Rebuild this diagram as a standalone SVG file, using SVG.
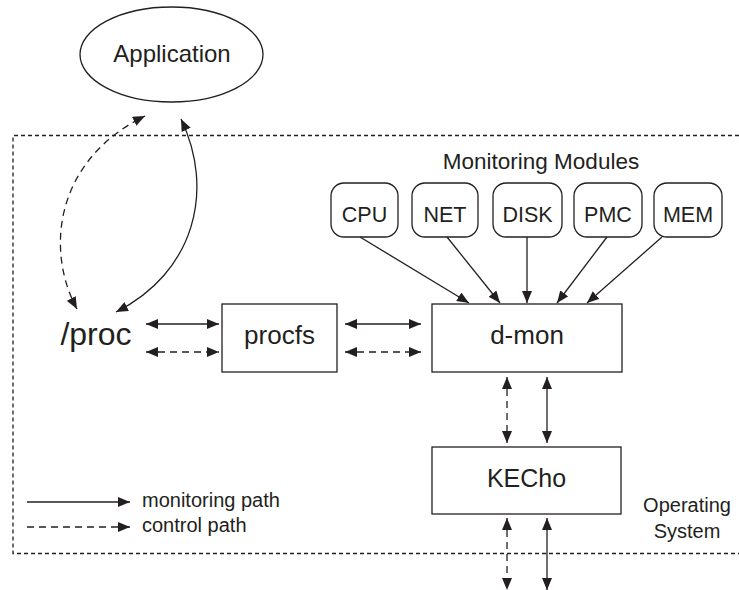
<svg xmlns="http://www.w3.org/2000/svg" width="739" height="590" viewBox="0 0 739 590">
  <style>
    .box { fill: #fff; stroke: #231f20; stroke-width: 1.3; }
    .lbl { font-family: "Liberation Sans", Arial, sans-serif; fill: #231f20; text-anchor: middle; }
    .ln { fill: none; stroke: #231f20; stroke-width: 1.3; }
    .dash { stroke-dasharray: 7 5; }
    .os { fill: none; stroke: #231f20; stroke-width: 1.3; stroke-dasharray: 4 3; }
  </style>
  <defs>
    <marker id="ah" viewBox="0 0 12 10" refX="12" refY="5" markerWidth="12" markerHeight="10" markerUnits="userSpaceOnUse" orient="auto-start-reverse">
      <path d="M0 0 L12 5 L0 10 Z" fill="#231f20"/>
    </marker>
  </defs>

  <rect width="739" height="590" fill="#fff"/>

  <!-- operating system boundary -->
  <path class="os" d="M739 135.5 H13 V553.5 H739"/>

  <g id="application">
    <ellipse class="box" cx="171.5" cy="54.5" rx="91.5" ry="47.5"/>
    <text class="lbl" x="172" y="62" font-size="24">Application</text>
  </g>

  <g id="proc">
    <text class="lbl" x="96" y="345" font-size="32">/proc</text>
  </g>

  <g id="procfs">
    <rect class="box" x="222" y="304" width="115" height="68"/>
    <text class="lbl" x="279.5" y="344" font-size="26">procfs</text>
  </g>

  <g id="dmon">
    <rect class="box" x="432" y="304" width="190" height="68"/>
    <text class="lbl" x="527" y="344" font-size="26">d-mon</text>
  </g>

  <g id="kecho">
    <rect class="box" x="432" y="447" width="189" height="67"/>
    <text class="lbl" x="526.5" y="487" font-size="25">KECho</text>
  </g>

  <g id="modules">
    <text class="lbl" x="541" y="169" font-size="22.5">Monitoring Modules</text>
    <g id="cpu">
      <rect class="box" x="331" y="183" width="67" height="54" rx="13"/>
      <text class="lbl" x="364.5" y="222" font-size="21.5">CPU</text>
    </g>
    <g id="net">
      <rect class="box" x="412" y="183" width="66" height="54" rx="13"/>
      <text class="lbl" x="445" y="222" font-size="21.5">NET</text>
    </g>
    <g id="disk">
      <rect class="box" x="493" y="183" width="69" height="54" rx="13"/>
      <text class="lbl" x="527.5" y="222" font-size="21.5">DISK</text>
    </g>
    <g id="pmc">
      <rect class="box" x="574" y="183" width="68" height="54" rx="13"/>
      <text class="lbl" x="608" y="222" font-size="21.5">PMC</text>
    </g>
    <g id="mem">
      <rect class="box" x="654" y="183" width="68" height="54" rx="13"/>
      <text class="lbl" x="688" y="222" font-size="21.5">MEM</text>
    </g>
  </g>

  <g id="os-label">
    <text class="lbl" x="687" y="512" font-size="20">Operating</text>
    <text class="lbl" x="687" y="538" font-size="20">System</text>
  </g>

  <g id="connectors">
    <!-- application <-> /proc -->
    <path class="ln dash" d="M77 309 C45 250 55 160 145 116" marker-start="url(#ah)" marker-end="url(#ah)"/>
    <path class="ln" d="M116 312 C195 272 215 190 181 119" marker-start="url(#ah)" marker-end="url(#ah)"/>
    <!-- /proc <-> procfs -->
    <line class="ln" x1="146" y1="324" x2="219" y2="324" marker-start="url(#ah)" marker-end="url(#ah)"/>
    <line class="ln dash" x1="146" y1="352" x2="219" y2="352" marker-start="url(#ah)" marker-end="url(#ah)"/>
    <!-- procfs <-> d-mon -->
    <line class="ln" x1="345" y1="324" x2="421" y2="324" marker-start="url(#ah)" marker-end="url(#ah)"/>
    <line class="ln dash" x1="345" y1="352" x2="421" y2="352" marker-start="url(#ah)" marker-end="url(#ah)"/>
    <!-- modules -> d-mon -->
    <line class="ln" x1="360" y1="237" x2="469" y2="303" marker-end="url(#ah)"/>
    <line class="ln" x1="447" y1="237" x2="500" y2="303" marker-end="url(#ah)"/>
    <line class="ln" x1="527" y1="237" x2="527" y2="303" marker-end="url(#ah)"/>
    <line class="ln" x1="607" y1="237" x2="557" y2="303" marker-end="url(#ah)"/>
    <line class="ln" x1="662" y1="237" x2="587" y2="303" marker-end="url(#ah)"/>
    <!-- d-mon <-> KECho -->
    <line class="ln dash" x1="507" y1="377" x2="507" y2="443" marker-start="url(#ah)" marker-end="url(#ah)"/>
    <line class="ln" x1="547" y1="377" x2="547" y2="443" marker-start="url(#ah)" marker-end="url(#ah)"/>
    <!-- KECho <-> below -->
    <line class="ln dash" x1="507" y1="518" x2="507" y2="590" marker-start="url(#ah)" marker-end="url(#ah)"/>
    <line class="ln" x1="547" y1="518" x2="547" y2="590" marker-start="url(#ah)" marker-end="url(#ah)"/>
  </g>

  <g id="legend">
    <line class="ln" x1="27" y1="502" x2="130" y2="502" marker-end="url(#ah)"/>
    <text class="lbl" x="142" y="507" font-size="20" style="text-anchor:start">monitoring path</text>
    <line class="ln dash" x1="27" y1="527" x2="130" y2="527" marker-end="url(#ah)"/>
    <text class="lbl" x="142" y="532" font-size="20" style="text-anchor:start">control path</text>
  </g>
</svg>
